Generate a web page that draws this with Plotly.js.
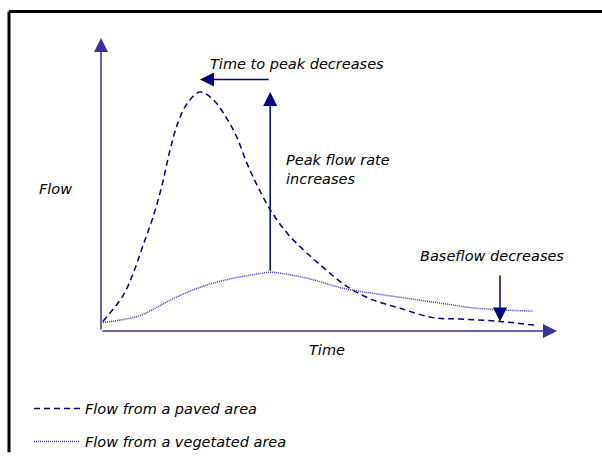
<!DOCTYPE html>
<html><head><meta charset="utf-8">
<script src="https://cdn.plot.ly/plotly-3.0.1.min.js"></script>
<style>html,body{margin:0;padding:0;background:#fff}#chart{width:602px;height:470px}</style>
</head><body><div id="chart"></div>
<script>
// Hydrograph: time (arbitrary units) vs flow (arbitrary units, paved peak = 100)
var pavedTime = [0.4, 4.8, 7.0, 9.2, 11.4, 13.4, 15.1, 16.9, 18.9, 21.7, 24.6, 27.6, 29.8, 32.0, 34.2, 37.1, 41.2, 48.0, 53.9, 59.0, 65.6, 72.8, 78.7, 87.5, 95.2];
var pavedFlow = [4.0, 14.7, 23.8, 35.7, 47.6, 61.1, 75.4, 87.3, 95.2, 100, 96.8, 88.9, 81.0, 70.2, 61.1, 50.8, 40.1, 27.8, 18.7, 13.5, 9.5, 5.6, 5.0, 4.0, 2.4];
var vegTime = [0.4, 4.2, 8.6, 15.8, 21.7, 28.3, 34.2, 37.1, 39.3, 45.8, 53.1, 60.5, 67.8, 75.0, 82.5, 94.7];
var vegFlow = [3.6, 4.6, 6.5, 13.5, 18.3, 21.8, 23.8, 24.6, 24.2, 21.8, 17.9, 15.5, 13.5, 11.5, 9.5, 8.3];
var seriesNames = ["Flow from a paved area", "Flow from a vegetated area"];
var axisLabels = {x: "Time", y: "Flow"};
var notes = {
  timeToPeak: "Time to peak decreases",
  peak: "Peak flow rate<br>increases",
  baseflow: "Baseflow decreases"
};
var baseflowTime = 87.5;
var baseflowTailFlow = 23.8;

// layout geometry (pixels)
var W = 602, H = 470;
var M = {l: 101, r: 45, t: 38, b: 123};
var PW = W - M.l - M.r, PH = H - M.t - M.b;
function px(x) { return (x - M.l) / PW; }
function py(y) { return (H - M.b - y) / PH; }

var xMax = 100, yMax = 122.6;
var font = {family: "'Comic Sans MS', 'DejaVu Sans', sans-serif", size: 14.5, color: "#000", style: "italic"};
var navy = "#000080";
var axisCol = "#34349c";

function argmax(a) { var k = 0; for (var i = 1; i < a.length; i++) if (a[i] > a[k]) k = i; return k; }
var pk = argmax(pavedFlow), vk = argmax(vegFlow);
var pavedPeakT = pavedTime[pk], pavedPeakF = pavedFlow[pk];
var vegPeakT = vegTime[vk], vegPeakF = vegFlow[vk];
function interp(xs, ys, x) {
  for (var i = 1; i < xs.length; i++) if (x <= xs[i]) { var r = (x - xs[i-1]) / (xs[i] - xs[i-1]); return ys[i-1] + r * (ys[i] - ys[i-1]); }
  return ys[ys.length - 1];
}

var traces = [
  {x: pavedTime, y: pavedFlow, type: "scatter", mode: "lines", name: seriesNames[0], legendgroup: "a",
   line: {color: navy, width: 1.5, dash: "6px,4px", shape: "spline", smoothing: 1}, hoverinfo: "skip"},
  {x: vegTime, y: vegFlow, type: "scatter", mode: "lines", name: seriesNames[1], legendgroup: "b",
   line: {color: "#3636b0", width: 1.5, dash: "1px,1px", shape: "spline", smoothing: 1}, hoverinfo: "skip"}
];

function arrow(x0, y0, x1, y1, col, w) {
  return {x: x1, y: y1, ax: x0, ay: y0, xref: "x", yref: "y", axref: "x", ayref: "y", text: "",
    showarrow: true, arrowhead: 2, arrowsize: 1.87, arrowwidth: w, arrowcolor: col, standoff: 0, startstandoff: 0};
}
function label(text, x, y, xanchor, align) {
  return {text: text, x: px(x), y: py(y), xref: "paper", yref: "paper", showarrow: false,
    xanchor: xanchor || "center", yanchor: "middle", align: align || "center", font: font};
}

var annotations = [
  arrow(0, 0, 0, yMax, axisCol, 1.5),
  arrow(0, 0, xMax, 0, axisCol, 1.5),
  arrow(vegPeakT, vegPeakF, vegPeakT, pavedPeakF, navy, 1.5),
  arrow(vegPeakT, pavedPeakF + 5.2, pavedPeakT, pavedPeakF + 5.2, navy, 1.5),
  arrow(baseflowTime, baseflowTailFlow, baseflowTime, interp(pavedTime, pavedFlow, baseflowTime), navy, 1.5),
  label(notes.timeToPeak, 297, 65),
  label(notes.peak, 284, 177, "left", "left"),
  label(notes.baseflow, 492, 268),
  label(axisLabels.y, 55, 197),
  label(axisLabels.x, 327, 367)
];

var layout = {
  width: W, height: H,
  margin: M,
  paper_bgcolor: "#fff", plot_bgcolor: "#fff",
  xaxis: {range: [0, xMax], visible: false, fixedrange: true},
  yaxis: {range: [0, yMax], visible: false, fixedrange: true},
  showlegend: true,
  legend: {x: px(29), y: py(412), xanchor: "left", yanchor: "top", font: font, bgcolor: "rgba(0,0,0,0)",
    tracegroupgap: 11, itemwidth: 46, orientation: "v"},
  annotations: annotations,
  shapes: [
    {type: "line", xref: "paper", yref: "paper", x0: px(9), y0: py(10), x1: px(W + 5), y1: py(10), line: {color: "#000", width: 3}},
    {type: "line", xref: "paper", yref: "paper", x0: px(9), y0: py(10), x1: px(9), y1: py(H + 5), line: {color: "#000", width: 3}}
  ]
};

Plotly.newPlot("chart", traces, layout, {displayModeBar: false, staticPlot: true});
</script>
</body></html>
